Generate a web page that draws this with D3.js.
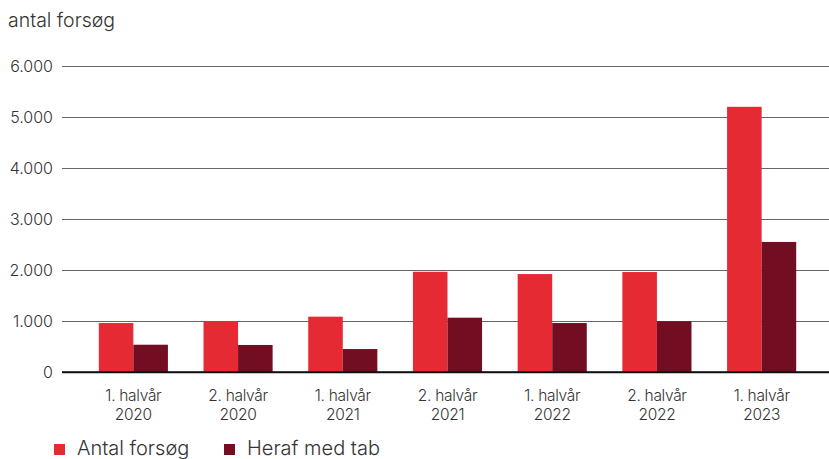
<!DOCTYPE html>
<html>
<head>
<meta charset="utf-8">
<script src="https://cdn.jsdelivr.net/npm/d3@7"></script>
<style>
  html, body { margin: 0; padding: 0; background: #fff; }
  svg { display: block; font-family: Inter, Lato, sans-serif; font-weight: 300; }
</style>
</head>
<body>
<svg id="chart" width="829" height="459"></svg>
<script>
// Half-year periods (two-line labels)
const periods = [
  ["1. halvår", "2020"],
  ["2. halvår", "2020"],
  ["1. halvår", "2021"],
  ["2. halvår", "2021"],
  ["1. halvår", "2022"],
  ["2. halvår", "2022"],
  ["1. halvår", "2023"]
];
const seriesNames = ["Antal forsøg", "Heraf med tab"];
const attempts = [960, 1000, 1085, 1965, 1920, 1960, 5200];
const withLoss = [535, 530, 450, 1065, 960, 995, 2550];
const yTicks = [0, 1000, 2000, 3000, 4000, 5000, 6000];
const colors = ["#e52a33", "#730e22"];

const svg = d3.select("#chart");
const plotLeft = 62, plotRight = 829, plotTop = 66, plotBottom = 372;
const fontFamily = "Inter, Lato, sans-serif";
const textColor = "#333";

const keys = periods.map((p, i) => i);
const x = d3.scaleBand().domain(keys).range([81, 814]).paddingInner(0.34).paddingOuter(0.17);
const xs = d3.scaleBand().domain([0, 1]).range([0, x.bandwidth()]);
const y = d3.scaleLinear().domain([0, 6000]).range([plotBottom, plotTop]);

const fmt = v => d3.format(",")(v).replace(/,/g, ".");

// Title of the value axis
svg.append("text").attr("x", 8).attr("y", 27)
  .attr("font-size", 19.5).attr("fill", textColor).text("antal forsøg");

// Horizontal gridlines and tick labels
const yAxis = d3.axisLeft(y).tickValues(yTicks).tickSize(-(plotRight - plotLeft)).tickPadding(9).tickFormat(fmt);
const gy = svg.append("g").attr("transform", `translate(${plotLeft},0)`).call(yAxis);
gy.select(".domain").remove();
gy.selectAll(".tick line").attr("stroke", d => d === 0 ? "#111" : "#666").attr("stroke-width", d => d === 0 ? 1.6 : 1.1);
gy.selectAll(".tick text").attr("font-size", 16).attr("fill", textColor)
  .attr("font-family", fontFamily).attr("font-weight", 300);

// Bars, drawn over the gridlines
const bars = svg.append("g");
[attempts, withLoss].forEach((vals, s) => {
  bars.append("g").selectAll("rect").data(vals).join("rect")
    .attr("x", (d, i) => x(i) + xs(s))
    .attr("y", d => y(d))
    .attr("width", xs.bandwidth())
    .attr("height", d => y(0) - y(d))
    .attr("fill", colors[s]);
});

// Baseline on top of the bars
svg.append("line")
  .attr("x1", plotLeft).attr("x2", plotRight)
  .attr("y1", y(0)).attr("y2", y(0))
  .attr("stroke", "#111").attr("stroke-width", 1.6);

// Category labels
const xAxis = d3.axisBottom(x).tickSize(0).tickFormat(() => "");
const gx = svg.append("g").attr("transform", `translate(0,${plotBottom})`).call(xAxis);
gx.select(".domain").remove();
gx.selectAll(".tick").each(function(d) {
  const t = d3.select(this).append("text")
    .attr("text-anchor", "middle").attr("font-size", 15.5).attr("fill", textColor)
    .attr("font-family", fontFamily).attr("font-weight", 300)
    .attr("letter-spacing", -0.3);
  t.append("tspan").attr("x", 0).attr("y", 29).text(periods[d][0]);
  t.append("tspan").attr("x", 0).attr("y", 48).text(periods[d][1]);
});

// Legend
const legendX = [54, 224];
const lg = svg.append("g");
seriesNames.forEach((name, i) => {
  lg.append("rect").attr("x", legendX[i]).attr("y", 444).attr("width", 11).attr("height", 11).attr("fill", colors[i]);
  lg.append("text").attr("x", legendX[i] + 23).attr("y", 455)
    .attr("font-size", 20).attr("fill", textColor).text(name);
});
</script>
</body>
</html>
